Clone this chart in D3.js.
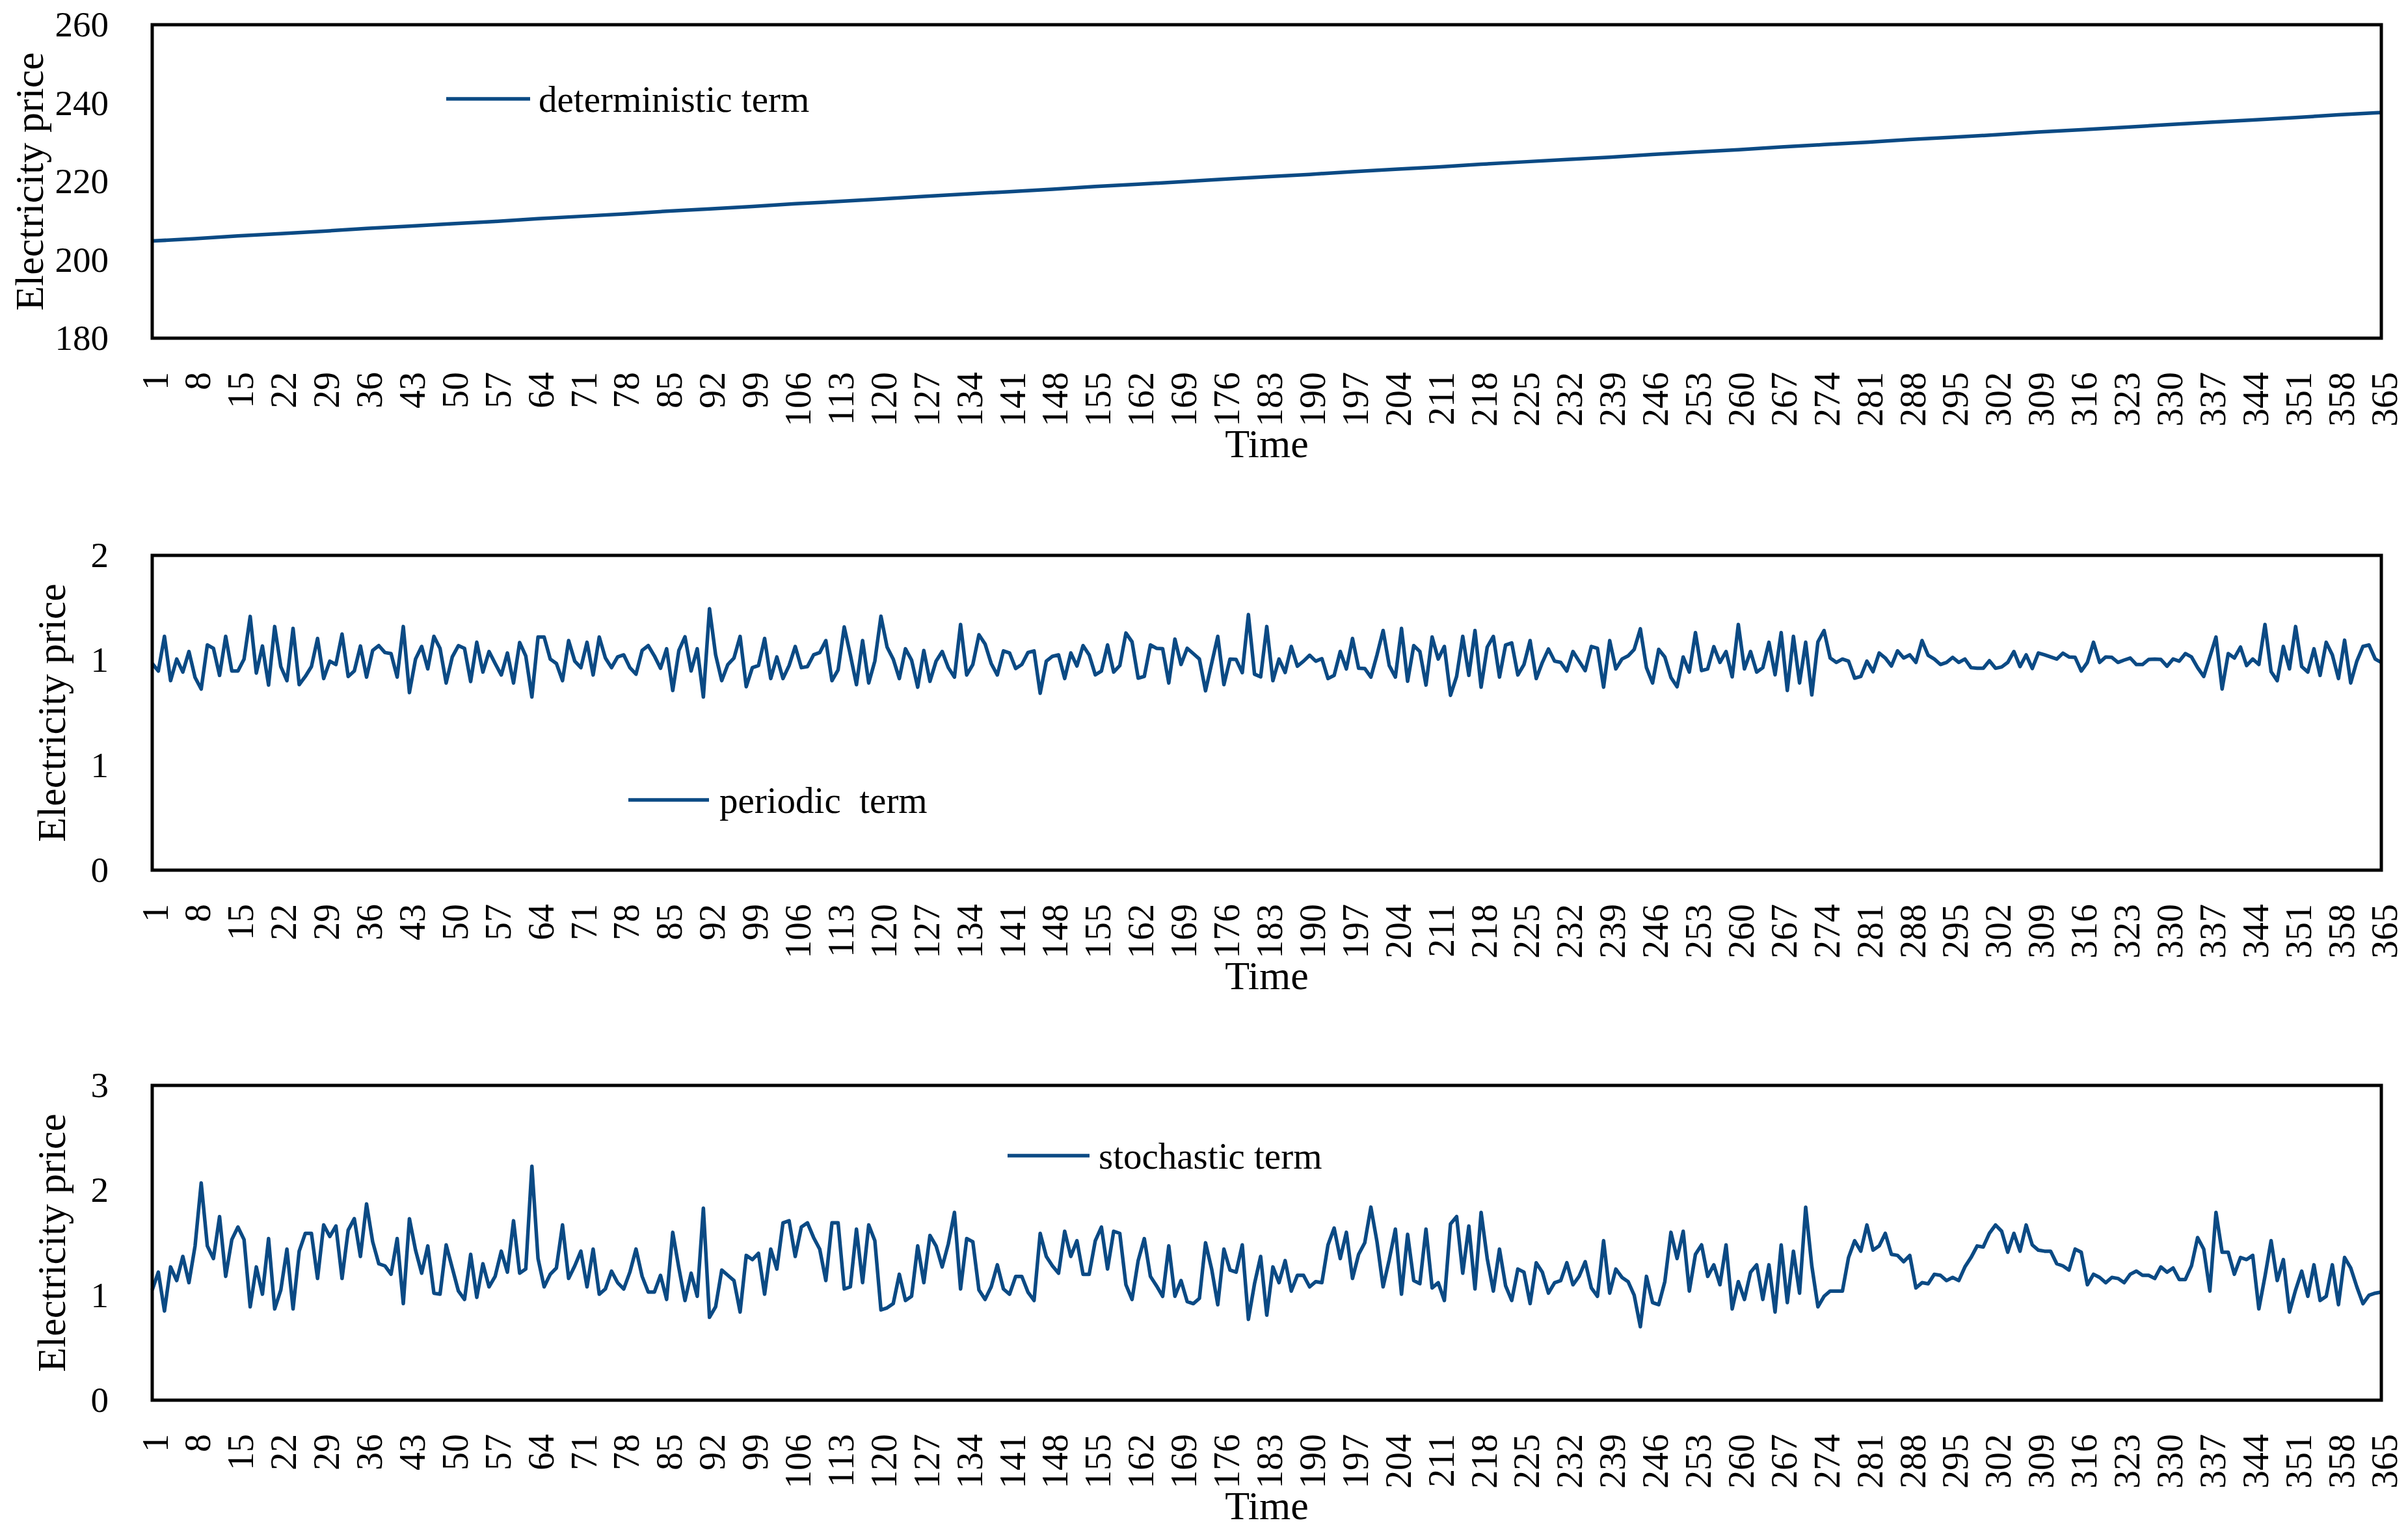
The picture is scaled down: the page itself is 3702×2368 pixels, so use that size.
<!DOCTYPE html>
<html>
<head>
<meta charset="utf-8">
<script src="https://cdn.jsdelivr.net/npm/d3@7"></script>
<style>
  body { margin: 0; background: #fff; }
  svg { display: block; }
</style>
</head>
<body>
<svg id="chart" width="3702" height="2368"></svg>
<script>
// ---------------- DATA ----------------
const timeTicks = [1,8,15,22,29,36,43,50,57,64,71,78,85,92,99,106,113,120,127,134,141,148,155,162,169,176,183,190,197,204,211,218,225,232,239,246,253,260,267,274,281,288,295,302,309,316,323,330,337,344,351,358,365];

// deterministic term read at the tick days
const deterministicTerm = [204.8,205.4,206.1,206.7,207.3,208.0,208.6,209.2,209.8,210.5,211.1,211.7,212.4,213.0,213.6,214.3,214.9,215.5,216.2,216.8,217.4,218.0,218.7,219.3,219.9,220.6,221.2,221.8,222.5,223.1,223.7,224.4,225.0,225.6,226.2,226.9,227.5,228.1,228.8,229.4,230.0,230.7,231.3,231.9,232.6,233.2,233.8,234.5,235.1,235.7,236.3,237.0,237.6];

const periodicTerm = [
0.985,0.949,1.114,0.903,1.006,0.944,1.042,0.918,0.863,1.073,
1.057,0.928,1.114,0.949,0.949,1.006,1.209,0.939,1.068,0.882,
1.161,0.970,0.903,1.152,0.884,0.923,0.970,1.104,0.913,0.996,
0.980,1.125,0.923,0.949,1.068,0.920,1.047,1.070,1.037,1.032,
0.920,1.161,0.846,1.006,1.066,0.959,1.114,1.057,0.892,1.016,
1.070,1.057,0.899,1.086,0.944,1.042,0.985,0.930,1.035,0.892,
1.085,1.021,0.825,1.111,1.111,1.006,0.985,0.903,1.094,0.996,
0.965,1.086,0.930,1.111,1.011,0.965,1.016,1.026,0.965,0.934,
1.047,1.070,1.021,0.962,1.055,0.856,1.047,1.112,0.949,1.055,
0.825,1.246,1.026,0.903,0.980,1.011,1.114,0.874,0.965,0.975,
1.104,0.913,1.016,0.913,0.975,1.066,0.965,0.970,1.026,1.037,
1.094,0.903,0.954,1.159,1.026,0.884,1.094,0.892,0.996,1.210,
1.063,1.006,0.913,1.055,1.001,0.872,1.047,0.900,0.996,1.042,
0.965,0.920,1.171,0.930,0.980,1.122,1.078,0.985,0.930,1.045,
1.035,0.961,0.980,1.037,1.045,0.843,0.996,1.019,1.026,0.913,
1.035,0.973,1.070,1.026,0.931,0.949,1.073,0.944,0.975,1.130,
1.088,0.915,0.923,1.073,1.057,1.055,0.892,1.101,0.980,1.057,
1.032,1.006,0.855,0.985,1.114,0.884,1.006,1.004,0.941,1.218,
0.934,0.921,1.161,0.903,1.006,0.942,1.066,0.972,0.996,1.024,
0.996,1.008,0.913,0.928,1.042,0.959,1.104,0.962,0.961,0.920,
1.026,1.142,0.975,0.920,1.152,0.900,1.070,1.042,0.882,1.111,
1.006,1.066,0.833,0.923,1.114,0.928,1.142,0.872,1.063,1.114,
0.920,1.073,1.083,0.930,0.980,1.094,0.913,0.990,1.054,0.996,
0.990,0.949,1.042,0.996,0.951,1.066,1.057,0.872,1.094,0.959,
1.006,1.021,1.052,1.150,0.965,0.892,1.052,1.016,0.918,0.874,
1.016,0.944,1.132,0.951,0.959,1.065,0.990,1.042,0.921,1.171,
0.959,1.042,0.944,0.965,1.086,0.931,1.132,0.856,1.114,0.892,
1.086,0.835,1.088,1.142,1.011,0.990,1.006,0.996,0.915,0.923,
0.996,0.946,1.035,1.011,0.973,1.045,1.011,1.026,0.990,1.094,
1.024,1.006,0.980,0.990,1.014,0.990,1.006,0.965,0.962,0.962,
0.998,0.962,0.968,0.990,1.042,0.970,1.026,0.961,1.035,1.026,
1.016,1.006,1.034,1.016,1.014,0.949,0.990,1.086,0.990,1.016,
1.014,0.990,1.001,1.011,0.980,0.980,1.004,1.006,1.004,0.972,
1.006,0.996,1.032,1.016,0.965,0.923,1.016,1.111,0.863,1.032,
1.011,1.063,0.975,1.006,0.980,1.171,0.946,0.903,1.066,0.959,
1.161,0.970,0.944,1.055,0.928,1.086,1.026,0.913,1.096,0.892,
0.996,1.066,1.073,1.006,0.990];

const stochasticTerm = [
1.05,1.22,0.85,1.27,1.14,1.37,1.12,1.47,2.07,1.47,
1.35,1.75,1.18,1.53,1.65,1.53,0.89,1.27,1.01,1.54,
0.87,1.05,1.44,0.87,1.42,1.59,1.59,1.16,1.67,1.56,
1.66,1.16,1.62,1.73,1.37,1.87,1.51,1.30,1.28,1.20,
1.54,0.92,1.73,1.43,1.21,1.47,1.02,1.01,1.48,1.26,
1.04,0.96,1.39,0.98,1.30,1.08,1.18,1.42,1.22,1.71,
1.21,1.25,2.23,1.35,1.08,1.20,1.26,1.67,1.16,1.28,
1.42,1.08,1.44,1.01,1.06,1.23,1.12,1.06,1.22,1.44,
1.18,1.03,1.03,1.19,0.96,1.60,1.26,0.95,1.21,0.99,
1.83,0.79,0.89,1.24,1.19,1.14,0.84,1.38,1.34,1.40,
1.01,1.44,1.25,1.69,1.71,1.37,1.65,1.69,1.55,1.44,
1.14,1.69,1.69,1.06,1.08,1.63,1.12,1.67,1.52,0.86,
0.88,0.92,1.20,0.95,0.99,1.47,1.12,1.57,1.47,1.27,
1.49,1.79,1.06,1.54,1.51,1.05,0.96,1.08,1.29,1.06,
1.01,1.18,1.18,1.03,0.95,1.59,1.37,1.28,1.21,1.61,
1.37,1.52,1.20,1.20,1.52,1.65,1.25,1.61,1.59,1.10,
0.96,1.33,1.54,1.18,1.09,0.99,1.47,0.99,1.14,0.94,
0.92,0.97,1.50,1.25,0.91,1.44,1.24,1.22,1.48,0.77,
1.11,1.37,0.81,1.27,1.12,1.33,1.04,1.19,1.19,1.08,
1.13,1.12,1.48,1.64,1.35,1.60,1.16,1.39,1.50,1.84,
1.51,1.08,1.34,1.63,1.01,1.58,1.14,1.11,1.63,1.07,
1.12,0.95,1.68,1.75,1.21,1.66,1.06,1.79,1.35,1.04,
1.44,1.09,0.95,1.25,1.22,0.92,1.31,1.22,1.02,1.12,
1.14,1.31,1.10,1.18,1.32,1.07,0.99,1.52,1.02,1.25,
1.17,1.13,1.00,0.70,1.18,0.93,0.91,1.13,1.60,1.35,
1.61,1.04,1.39,1.48,1.18,1.29,1.10,1.48,0.87,1.13,
0.96,1.22,1.29,0.96,1.29,0.84,1.48,0.93,1.42,1.02,
1.84,1.28,0.89,0.99,1.04,1.04,1.04,1.36,1.52,1.42,
1.67,1.43,1.47,1.59,1.39,1.38,1.32,1.38,1.07,1.12,
1.11,1.20,1.19,1.14,1.17,1.14,1.27,1.36,1.47,1.46,
1.59,1.67,1.61,1.41,1.59,1.42,1.67,1.48,1.43,1.42,
1.42,1.30,1.28,1.24,1.44,1.41,1.10,1.20,1.17,1.12,
1.17,1.16,1.12,1.20,1.23,1.19,1.19,1.16,1.27,1.22,
1.26,1.15,1.15,1.28,1.55,1.44,1.04,1.79,1.41,1.41,
1.20,1.36,1.34,1.38,0.87,1.18,1.52,1.14,1.34,0.84,
1.05,1.23,0.99,1.29,0.95,0.99,1.29,0.91,1.36,1.26,
1.08,0.92,1.00,1.02,1.03];

const detYTicks = [180, 200, 220, 240, 260];
const detYLabels = ["180", "200", "220", "240", "260"];
const perYTicks = [0, 0.5, 1, 1.5];
const perYLabels = ["0", "1", "1", "2"];
const stoYTicks = [0, 1, 2, 3];
const stoYLabels = ["0", "1", "2", "3"];
const seriesNames = ["deterministic term", "periodic  term", "stochastic term"];
const yTitle = "Electricity price";
const xTitle = "Time";

// ---------------- DRAW ----------------
const FONT = '"Liberation Serif", "Times New Roman", Times, serif';
const BLUE = "#0b4a84";
const L = 234, R = 3661;
const days = d3.range(1, 366);

const svg = d3.select("#chart");
svg.append("rect").attr("width", 3702).attr("height", 2368).attr("fill", "#fff");

const x = d3.scaleLinear().domain([1, 365]).range([L, R]);

const panels = [
  { top: 38, bottom: 520, domain: [180, 260], ticks: detYTicks, labels: detYLabels,
    xs: timeTicks, values: deterministicTerm, name: seriesNames[0],
    leg: { x1: 686, x2: 815, y: 152, tx: 828 }, titleX: 66 },
  { top: 854, bottom: 1338, domain: [0, 1.5], ticks: perYTicks, labels: perYLabels,
    xs: days, values: periodicTerm, name: seriesNames[1],
    leg: { x1: 966, x2: 1090, y: 1230, tx: 1106 }, titleX: 100 },
  { top: 1669, bottom: 2153, domain: [0, 3], ticks: stoYTicks, labels: stoYLabels,
    xs: days, values: stochasticTerm, name: seriesNames[2],
    leg: { x1: 1549, x2: 1675, y: 1777, tx: 1689 }, titleX: 100 }
];

panels.forEach(p => {
  const g = svg.append("g");
  const y = d3.scaleLinear().domain(p.domain).range([p.bottom, p.top]);

  // y axis
  const ya = d3.axisLeft(y).tickValues(p.ticks).tickSize(0).tickPadding(L - 167)
    .tickFormat((d, i) => p.labels[i]);
  const yg = g.append("g").attr("transform", `translate(${L},0)`).call(ya);
  yg.select(".domain").remove();
  yg.attr("font-family", FONT).attr("font-size", 55);
  yg.selectAll("text").attr("fill", "#000");

  // x axis
  const xa = d3.axisBottom(x).tickValues(timeTicks).tickSize(0).tickFormat(d => String(d));
  const xg = g.append("g").attr("transform", `translate(0,${p.bottom})`).call(xa);
  xg.select(".domain").remove();
  xg.attr("font-family", FONT).attr("font-size", 56);
  xg.selectAll("text")
    .attr("fill", "#000")
    .attr("y", null).attr("dy", null)
    .attr("transform", "translate(4,52) rotate(-90)")
    .attr("text-anchor", "end")
    .attr("dominant-baseline", "central");

  // series line
  g.append("path")
    .datum(p.values)
    .attr("fill", "none")
    .attr("stroke", BLUE)
    .attr("stroke-width", 5.5)
    .attr("stroke-linejoin", "round")
    .attr("d", d3.line().x((d, i) => x(p.xs[i])).y(d => y(d)));

  // plot border
  g.append("rect")
    .attr("x", L).attr("y", p.top)
    .attr("width", R - L).attr("height", p.bottom - p.top)
    .attr("fill", "none").attr("stroke", "#000").attr("stroke-width", 5);

  // y title
  g.append("text")
    .attr("transform", `translate(${p.titleX},${(p.top + p.bottom) / 2}) rotate(-90)`)
    .attr("text-anchor", "middle")
    .attr("font-family", FONT).attr("font-size", 62).attr("fill", "#000")
    .text(yTitle);

  // x title
  g.append("text")
    .attr("x", (L + R) / 2).attr("y", p.bottom + 183)
    .attr("text-anchor", "middle")
    .attr("font-family", FONT).attr("font-size", 62).attr("fill", "#000")
    .text(xTitle);

  // legend
  g.append("line")
    .attr("x1", p.leg.x1).attr("x2", p.leg.x2)
    .attr("y1", p.leg.y).attr("y2", p.leg.y)
    .attr("stroke", BLUE).attr("stroke-width", 5.5);
  g.append("text")
    .attr("x", p.leg.tx).attr("y", p.leg.y)
    .attr("dominant-baseline", "central")
    .attr("font-family", FONT).attr("font-size", 57).attr("fill", "#000")
    .style("white-space", "pre")
    .attr("xml:space", "preserve")
    .text(p.name);
});
</script>
</body>
</html>
